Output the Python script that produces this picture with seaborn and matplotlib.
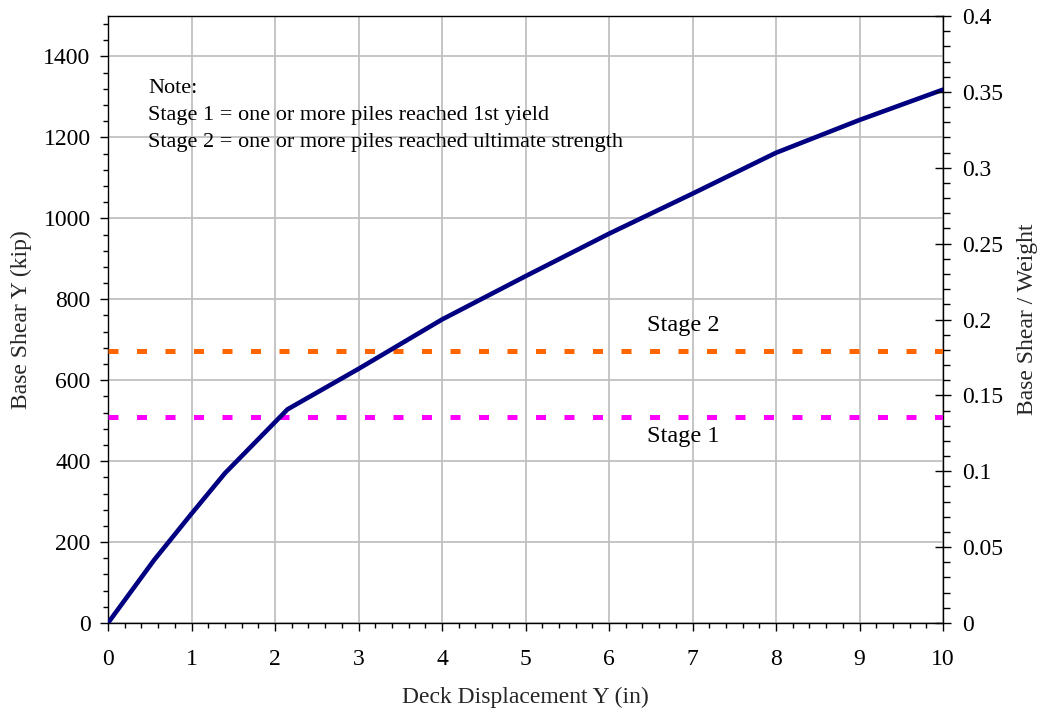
import matplotlib
matplotlib.use("Agg")
import matplotlib.pyplot as plt
import seaborn as sns
import pandas as pd
from matplotlib.ticker import MultipleLocator

# Data
displacement = [0.0, 0.55, 1.0, 1.4, 2.15, 3.0, 4.0, 5.0, 6.0, 7.0, 8.0, 9.0, 10.0]
base_shear = [0, 155, 270, 370, 528, 628, 750, 857, 962, 1061, 1162, 1243, 1318]
stage1_shear = 510
stage2_shear = 671
weight_ratio_max = 0.4
shear_max = 1500
note_lines = ["Note:",
              "Stage 1 = one or more piles reached 1st yield",
              "Stage 2 = one or more piles reached ultimate strength"]

sns.set_theme(style="white")
plt.rcParams['font.family'] = ['Liberation Serif', 'DejaVu Serif']

fig = plt.figure(figsize=(10.41, 7.15), dpi=100)
ax = fig.add_axes([108/1041, 1-623/715, (943-108)/1041, (623-16)/715])

df = pd.DataFrame({"x": displacement, "y": base_shear})
sns.lineplot(data=df, x="x", y="y", ax=ax, color="#000080", linewidth=3.3, zorder=5)

ax.axhline(stage2_shear, color="#FF6600", linewidth=3.6, dashes=(2.0, 3.7), zorder=4)
ax.axhline(stage1_shear, color="#FF00FF", linewidth=3.6, dashes=(2.0, 3.7), zorder=4)

ax.set_xlim(0, 10)
ax.set_ylim(0, shear_max)
ax.xaxis.set_major_locator(MultipleLocator(1))
ax.xaxis.set_minor_locator(MultipleLocator(0.2))
ax.yaxis.set_major_locator(MultipleLocator(200))
ax.yaxis.set_minor_locator(MultipleLocator(40))
ax.grid(True, which="major", color="#c0c0c0", linewidth=1.3)
ax.set_axisbelow(True)

for s in ax.spines.values():
    s.set_color("black")
    s.set_linewidth(1.0)

fs_tick = 17
fs_label = 17
fs_note = 16
fs_stage = 17.5
ax.tick_params(axis="both", which="major", direction="out", length=5.5, width=1,
               colors="black", labelsize=fs_tick, bottom=True, left=True)
ax.tick_params(axis="x", which="major", pad=13)
ax.tick_params(axis="y", which="major", pad=7)
ax.tick_params(axis="both", which="minor", direction="out", length=3.8, width=1,
               colors="black", bottom=True, left=True)

ax.set_xlabel("Deck Displacement Y (in)", fontsize=fs_label, labelpad=12)
ax.set_ylabel("Base Shear Y (kip)", fontsize=fs_label, labelpad=8)

ax2 = ax.twinx()
ax2.set_ylim(0, weight_ratio_max)
ax2.yaxis.set_major_locator(MultipleLocator(0.05))
ax2.yaxis.set_minor_locator(MultipleLocator(0.01))
ax2.yaxis.set_major_formatter(matplotlib.ticker.FuncFormatter(lambda v, p: f"{v:g}"))
ax2.tick_params(axis="y", which="major", direction="inout", length=12, width=1,
                colors="black", labelsize=fs_tick, right=True, pad=8)
ax2.tick_params(axis="y", which="minor", direction="out", length=5, width=1,
                colors="black", right=True)
ax2.set_ylabel("Base Shear / Weight", fontsize=fs_label, labelpad=10)
ax2.grid(False)
for s in ax2.spines.values():
    s.set_visible(False)

for i, line in enumerate(note_lines):
    ax.text(0.48, 1322 - i * 67, line, fontsize=fs_note, va="center", ha="left", color="black")

ax.text(6.89, 735, "Stage 2", fontsize=fs_stage, ha="center", va="center", color="black")
ax.text(6.89, 460, "Stage 1", fontsize=fs_stage, ha="center", va="center", color="black")

fig.savefig("out.png", dpi=100)
